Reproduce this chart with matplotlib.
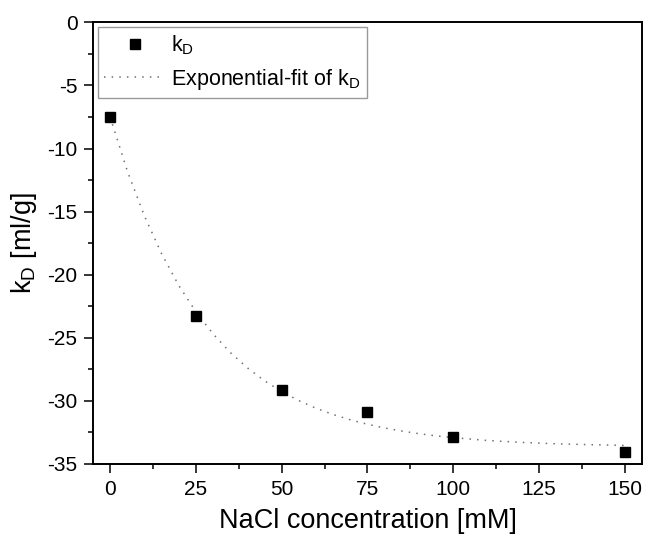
import matplotlib
matplotlib.use('Agg')
import matplotlib.pyplot as plt
from matplotlib.ticker import MultipleLocator

plt.rcParams['font.family'] = ['Liberation Sans', 'DejaVu Sans']
plt.rcParams['mathtext.default'] = 'regular'
plt.rcParams['axes.unicode_minus'] = False

# measured points
nacl_mm = [0, 25, 50, 75, 100, 150]
kd = [-7.5, -23.3, -29.1, -30.9, -32.9, -34.05]

# exponential fit curve
fit_x = [0, 5, 10, 15, 20, 25, 30, 35, 40, 45, 50, 55, 60, 65, 70, 75,
         80, 85, 90, 95, 100, 110, 120, 130, 140, 150]
fit_y = [-7.50, -11.78, -15.35, -18.34, -20.85, -22.94, -24.69, -26.16,
         -27.38, -28.41, -29.26, -29.98, -30.58, -31.08, -31.50, -31.85,
         -32.15, -32.39, -32.60, -32.77, -32.91, -33.14, -33.29, -33.40,
         -33.47, -33.53]

x_ticks = [0, 25, 50, 75, 100, 125, 150]
y_ticks = [0, -5, -10, -15, -20, -25, -30, -35]

fig = plt.figure(figsize=(6.48, 5.43), dpi=100)
ax = fig.add_axes([0.1435, 0.1455, 0.8472, 0.8134])

ax.plot(fit_x, fit_y, linestyle=(0, (1, 4)), color='#707070', linewidth=1.1,
        label=r'Exponential-fit of k$_{D}$', zorder=2)
ax.plot(nacl_mm, kd, linestyle='none', marker='s', markersize=6.5,
        color='black', label=r'k$_{D}$', zorder=3)

ax.set_xlim(-5, 155)
ax.set_ylim(-35, 0)
ax.set_xticks(x_ticks)
ax.set_yticks(y_ticks)
ax.xaxis.set_minor_locator(MultipleLocator(12.5))
ax.yaxis.set_minor_locator(MultipleLocator(2.5))

ax.tick_params(which='both', direction='out', top=False, right=False,
               labelsize=15, width=1.1)
ax.tick_params(which='major', length=6.2, pad=5)
ax.tick_params(which='minor', length=3.6)
for sp in ax.spines.values():
    sp.set_linewidth(1.4)

ax.set_xlabel('NaCl concentration [mM]', fontsize=19.5, labelpad=7)
ax.set_ylabel(r'k$_{D}$ [ml/g]', fontsize=19.5, labelpad=6)

handles, labels = ax.get_legend_handles_labels()
leg = ax.legend(handles[::-1], labels[::-1], loc='upper left',
                bbox_to_anchor=(0.009, 0.989), borderaxespad=0,
                fontsize=15.5, numpoints=1, handlelength=2.8,
                handletextpad=0.3, borderpad=0.3, labelspacing=0.45,
                fancybox=False, framealpha=1, edgecolor='#9a9a9a')
leg.get_frame().set_linewidth(1.0)

fig.savefig('out.png', dpi=100, facecolor='white')
